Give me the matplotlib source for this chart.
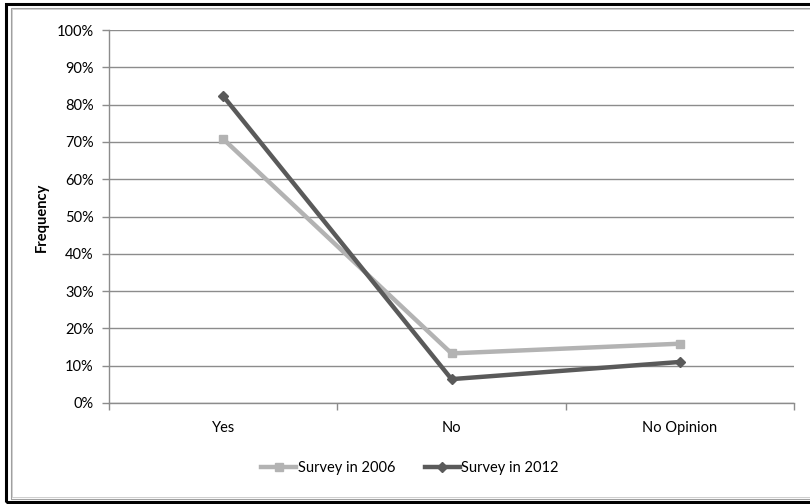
import matplotlib
matplotlib.use("Agg")
import matplotlib.pyplot as plt
from matplotlib.patches import Rectangle
from matplotlib.ticker import FixedLocator, PercentFormatter

categories = ["Yes", "No", "No Opinion"]
survey_2006 = [70.8, 13.3, 15.9]
survey_2012 = [82.3, 6.4, 11.0]
series_labels = ["Survey in 2006", "Survey in 2012"]

plt.rcParams['font.family'] = ['Lato', 'DejaVu Sans']

W, H = 810, 504
fig = plt.figure(figsize=(W / 100, H / 100), dpi=100)

# frame borders (right side runs off the image in the reference)
fig.patches.append(Rectangle((6 / W, 2 / H), 2.0, (H - 6) / H, transform=fig.transFigure,
                             fill=False, edgecolor='black', linewidth=2.2))
fig.patches.append(Rectangle((10.5 / W, 5.5 / H), 2.0, (H - 13) / H, transform=fig.transFigure,
                             fill=False, edgecolor='#a0a0a0', linewidth=0.8))
fig.patches.append(Rectangle((12 / W, 7 / H), 2.0, (H - 16) / H, transform=fig.transFigure,
                             fill=False, edgecolor='#c8c8c8', linewidth=0.6))

left, right, top, bottom = 109, 794, 30, 403
ax = fig.add_axes([left / W, 1 - bottom / H, (right - left) / W, (bottom - top) / H])

x = list(range(len(categories)))
ax.plot(x, survey_2006, color='#b3b3b3', linewidth=3.2, marker='s', markersize=6,
        label=series_labels[0], solid_joinstyle='miter', zorder=3)
ax.plot(x, survey_2012, color='#5a5a5a', linewidth=3.2, marker='D', markersize=5,
        label=series_labels[1], solid_joinstyle='miter', zorder=4)

ax.set_xlim(-0.5, len(categories) - 0.5)
ax.set_ylim(0, 100)
ax.set_yticks(range(0, 101, 10))
ax.yaxis.set_major_formatter(PercentFormatter(decimals=0))
ax.set_xticks(x)
ax.set_xticklabels(categories)
ax.xaxis.set_minor_locator(FixedLocator([i - 0.5 for i in range(len(categories) + 1)]))

ax.grid(axis='y', color='#8c8c8c', linewidth=1.0)
ax.set_axisbelow(True)
for s in ['top', 'right']:
    ax.spines[s].set_visible(False)
for s in ['left', 'bottom']:
    ax.spines[s].set_color('#8c8c8c')
    ax.spines[s].set_linewidth(1.0)

fs = 10.5
ax.tick_params(axis='x', which='major', length=0, pad=13, labelsize=fs, colors='black')
ax.tick_params(axis='x', which='minor', length=5, direction='out', color='#8c8c8c', width=1.0)
ax.tick_params(axis='y', length=5, direction='out', color='#8c8c8c', width=1.0, pad=6, labelsize=fs)

fig.text(42 / W, 1 - 217 / H, "Frequency", rotation=90, ha='center', va='center',
         fontsize=fs, fontweight='bold')

fig.legend(loc='center', bbox_to_anchor=(410 / W, 1 - 468 / H), ncol=2, frameon=False,
           fontsize=fs, handlelength=2.4, handletextpad=0.1, columnspacing=2.0)

fig.savefig("out.png", dpi=100)
